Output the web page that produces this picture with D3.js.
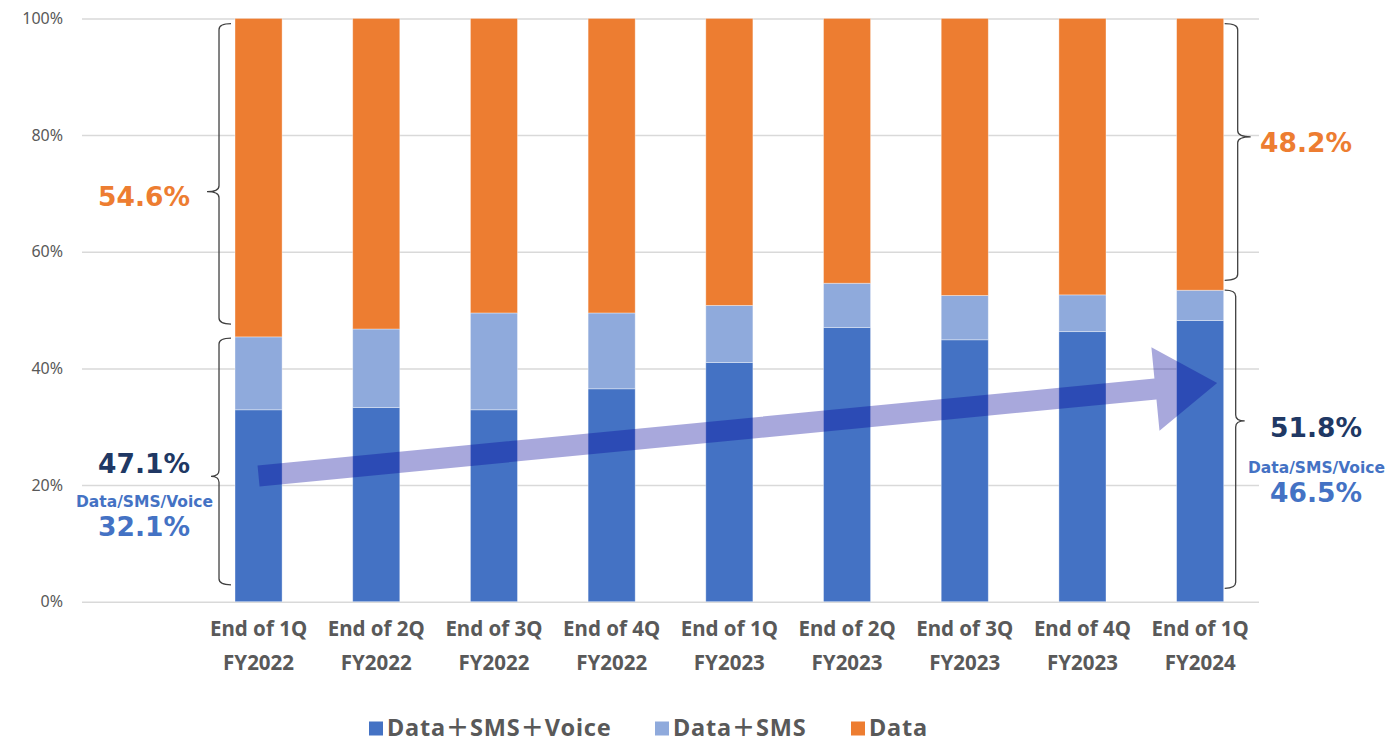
<!DOCTYPE html>
<html>
<head>
<meta charset="utf-8">
<script src="https://cdn.jsdelivr.net/npm/d3@7"></script>
<style>
  html, body { margin: 0; padding: 0; background: #fff; }
  svg { display: block; }
</style>
</head>
<body>
<svg id="chart" width="1386" height="742"></svg>
<script>
// Quarter labels (two lines each); the first band is left empty for the annotations
const quarterLine1 = ["End of 1Q", "End of 2Q", "End of 3Q", "End of 4Q", "End of 1Q", "End of 2Q", "End of 3Q", "End of 4Q", "End of 1Q"];
const quarterLine2 = ["FY2022", "FY2022", "FY2022", "FY2022", "FY2023", "FY2023", "FY2023", "FY2023", "FY2024"];

// Share of subscribers by plan type (%), stacked bottom to top
const dataSmsVoice = [32.9, 33.3, 32.9, 36.5, 41.0, 47.0, 44.9, 46.3, 48.2];
const dataSms      = [12.5, 13.45, 16.6, 13.0, 9.8, 7.6, 7.6, 6.3, 5.2];
const dataOnly     = [54.6, 53.25, 50.5, 50.5, 49.2, 45.4, 47.5, 47.4, 46.6];

const seriesNames = ["Data＋SMS＋Voice", "Data＋SMS", "Data"];
const yTicks = [0, 20, 40, 60, 80, 100];

const colors = { "Data＋SMS＋Voice": "#4472C4", "Data＋SMS": "#8FAADC", "Data": "#ED7D31" };

const svg = d3.select("#chart");
const plot = { left: 82, right: 1259, top: 18.4, bottom: 601.7 };

// Rows for the stack layout
const keys = quarterLine1.map((d, i) => "q" + i);
const rows = keys.map((k, i) => ({
  key: k,
  "Data＋SMS＋Voice": dataSmsVoice[i],
  "Data＋SMS": dataSms[i],
  "Data": dataOnly[i]
}));

const x = d3.scaleBand()
  .domain(["_blank"].concat(keys))
  .range([plot.left, plot.right])
  .paddingInner(0.6)
  .paddingOuter(0.3);

const y = d3.scaleLinear().domain([0, 100]).range([plot.bottom, plot.top]);

// Gridlines and percentage ticks
const yAxis = d3.axisLeft(y)
  .tickValues(yTicks)
  .tickFormat(d => d + "%")
  .tickSize(-(plot.right - plot.left))
  .tickPadding(19);

const gy = svg.append("g")
  .attr("transform", `translate(${plot.left},0)`)
  .call(yAxis);
gy.select(".domain").remove();
gy.selectAll(".tick line").attr("stroke", "#D9D9D9").attr("stroke-width", 1.5);
gy.selectAll(".tick text")
  .attr("fill", "#595959")
  .style("font-family", "'Noto Sans', sans-serif")
  .style("font-size", "16px");

// Stacked bars
const stack = d3.stack().keys(seriesNames);
const layers = stack(rows);

svg.append("g").selectAll("g")
  .data(layers)
  .join("g")
  .attr("fill", d => colors[d.key])
  .selectAll("rect")
  .data(d => d)
  .join("rect")
  .attr("x", d => x(d.data.key))
  .attr("width", x.bandwidth())
  .attr("y", d => y(d[1]))
  .attr("height", d => y(d[0]) - y(d[1]))
  .attr("stroke", "#ffffff")
  .attr("stroke-opacity", 0.45)
  .attr("stroke-width", 0.8);

// Quarter labels under the bars
const xAxis = d3.axisBottom(x).tickSize(0).tickFormat("");
const gx = svg.append("g")
  .attr("transform", `translate(0,${plot.bottom})`)
  .call(xAxis);
gx.select(".domain").remove();

const catLabels = svg.append("g")
  .attr("fill", "#595959")
  .style("font-family", "'Noto Sans', sans-serif")
  .style("font-weight", "700")
  .style("font-size", "20.5px")
  .attr("text-anchor", "middle");

keys.forEach((k, i) => {
  const cx = x(k) + x.bandwidth() / 2;
  catLabels.append("text").attr("x", cx).attr("y", 635.5).text(quarterLine1[i]);
  catLabels.append("text").attr("x", cx).attr("y", 670).text(quarterLine2[i]);
});

// Trend arrow across the chart (data coordinates: band centre / percent)
const tailPt = [x(keys[0]) + x.bandwidth() / 2, y(21.55)];
const tipPt = [x(keys[8]) + x.bandwidth() / 2 + 17, y(37.5)];
(function drawArrow() {
  const dx = tipPt[0] - tailPt[0], dy = tipPt[1] - tailPt[1];
  const len = Math.hypot(dx, dy);
  const u = [dx / len, dy / len];
  const n = [-u[1], u[0]];
  const shaftHalf = 10.5, headHalf = 42, headLen = 62;
  const base = [tipPt[0] - u[0] * headLen, tipPt[1] - u[1] * headLen];
  const p = (pt, s) => [pt[0] + n[0] * s, pt[1] + n[1] * s];
  const pts = [
    p(tailPt, -shaftHalf), p(base, -shaftHalf), p(base, -headHalf), tipPt,
    p(base, headHalf), p(base, shaftHalf), p(tailPt, shaftHalf)
  ];
  svg.append("path")
    .attr("d", d3.line()(pts) + "Z")
    .attr("fill", "#000099")
    .attr("fill-opacity", 0.342);
})();

// Curly braces: dir = -1 tip points left, +1 tip points right
function brace(x0, yTop, yBot, yTip, hook, tip, dir) {
  const r = 6;
  const path = d3.path();
  path.moveTo(x0 - dir * hook, yTop);
  path.quadraticCurveTo(x0, yTop, x0, yTop + r);
  path.lineTo(x0, yTip - r);
  path.quadraticCurveTo(x0, yTip, x0 + dir * tip, yTip);
  path.quadraticCurveTo(x0, yTip, x0, yTip + r);
  path.lineTo(x0, yBot - r);
  path.quadraticCurveTo(x0, yBot, x0 - dir * hook, yBot);
  svg.append("path")
    .attr("d", path.toString())
    .attr("fill", "none")
    .attr("stroke", "#404040")
    .attr("stroke-width", 1.3);
}

const firstLeft = x(keys[0]);
const lastRight = x(keys[8]) + x.bandwidth();
brace(firstLeft - 16, y(99.1), y(47.6), y(70.3), 12, 12, -1);
brace(firstLeft - 16, y(45.2), y(2.9), y(21.5), 12, 8, -1);
brace(lastRight + 14, y(99.1), y(55.1), y(79.7), 13, 13, 1);
brace(lastRight + 12, y(53.4), y(2.3), y(31.0), 11, 9, 1);

// Share annotations
const notes = [
  { text: "54.6%",          x: 144,  y: 206,   size: 26.5, color: "#ED7D31" },
  { text: "47.1%",          x: 144,  y: 472.5, size: 26.5, color: "#203864" },
  { text: "Data/SMS/Voice", x: 144.5,y: 507,   size: 15.5, color: "#4472C4" },
  { text: "32.1%",          x: 144,  y: 536,   size: 26.5, color: "#4472C4" },
  { text: "48.2%",          x: 1306, y: 151.5, size: 26.5, color: "#ED7D31" },
  { text: "51.8%",          x: 1316, y: 437,   size: 26.5, color: "#203864" },
  { text: "Data/SMS/Voice", x: 1316.5, y: 472.5, size: 15.5, color: "#4472C4" },
  { text: "46.5%",          x: 1316, y: 501.5, size: 26.5, color: "#4472C4" }
];
svg.append("g")
  .style("font-family", "'DejaVu Sans', Verdana, sans-serif")
  .style("font-weight", "700")
  .attr("text-anchor", "middle")
  .selectAll("text")
  .data(notes)
  .join("text")
  .attr("x", d => d.x)
  .attr("y", d => d.y)
  .attr("fill", d => d.color)
  .style("font-size", d => d.size + "px")
  .text(d => d.text);

// Legend
const legend = svg.append("g")
  .style("font-family", "'Noto Sans', 'Noto Sans CJK JP', sans-serif")
  .style("font-weight", "700")
  .style("font-size", "23.5px")
  .style("letter-spacing", "0.8px");
const legendX = [369, 655, 851];
seriesNames.forEach((name, i) => {
  const g = legend.append("g").attr("transform", `translate(${legendX[i]},0)`);
  g.append("rect").attr("x", 0).attr("y", 721.5).attr("width", 14).attr("height", 14).attr("fill", colors[name]);
  g.append("text").attr("x", 18).attr("y", 735.5).attr("fill", "#595959").text(name);
});
</script>
</body>
</html>
